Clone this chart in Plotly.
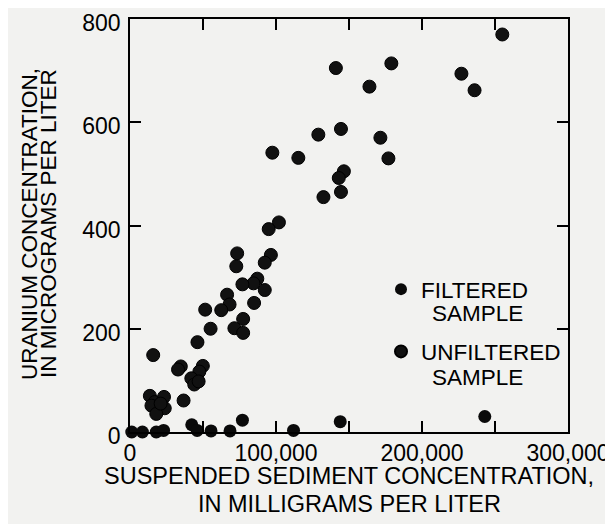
import plotly.graph_objects as go

# Suspended sediment (mg/L) and uranium (ug/L)
filtered_x = [1200, 8500, 18000, 23000, 42300, 46000, 55500, 68500, 77000, 112000, 144000, 243000]
filtered_y = [0, 0, 0, 3, 14, 3, 2, 2, 23, 3, 20, 30]

unfiltered_x = [255000, 141000, 179000, 164000, 227000, 236000, 129000, 144500, 171500, 177000,
                97500, 115300, 146500, 143000, 144500, 132500, 102000, 95000, 96500, 92300,
                73400, 72800, 87200, 84600, 77000, 92300, 85000, 66500, 68200, 62500,
                51500, 77500, 71500, 77500, 55200, 46200, 15900, 34800, 32900, 49900,
                47500, 42000, 44000, 47000, 36700, 13600, 17000, 23300, 14700, 23800,
                18000, 21000]
unfiltered_y = [770, 705, 714, 669, 694, 662, 576, 587, 570, 530,
                541, 531, 505, 492, 465, 455, 406, 393, 343, 328,
                346, 321, 297, 288, 286, 275, 250, 266, 247, 236,
                237, 219, 201, 192, 200, 174, 149, 127, 121, 128,
                117, 104, 92, 98, 61, 70, 58, 68, 51, 46,
                35, 55]

x_tickvals = [0, 50000, 100000, 150000, 200000, 250000, 300000]
x_ticktext = ["0", "", "100,000", "", "200,000", "", "300,000"]
y_tickvals = [0, 200, 400, 600, 800]
y_ticktext = ["0", "200", "400", "600", "800"]

FONT = "Liberation Sans, Arial, Helvetica, sans-serif"
BG = "#f2f2f0"

# The page body adds an 8px offset; the figure is sized to fill the rest of the window.
OFF = 8
PL, PR, PT, PB = 130, 568, 19, 432   # plot frame in window pixels
W, H = 613 - OFF, 524 - OFF


def px(x):
    return (x - PL) / (PR - PL)


def py(y):
    return (PB - y) / (PB - PT)


fig = go.Figure()
fig.add_trace(go.Scatter(
    x=filtered_x, y=filtered_y, mode="markers", name="FILTERED", legendgroup="f",
    marker=dict(size=13, color="#0a0a0a", line=dict(width=0)),
    cliponaxis=False))
fig.add_trace(go.Scatter(
    x=unfiltered_x, y=unfiltered_y, mode="markers", name="UNFILTERED", legendgroup="u",
    marker=dict(size=13, color="#111111", line=dict(width=1, color="#000000")),
    cliponaxis=False))

axis_common = dict(
    showgrid=False, zeroline=False, showline=True, linecolor="black", linewidth=1.5,
    mirror="ticks", ticks="inside", ticklen=11, tickwidth=1.5, tickcolor="black",
    tickfont=dict(family=FONT, size=23, color="black"), automargin=False,
    ticklabeloverflow="allow",
)
fig.update_xaxes(range=[0, 300000], tickmode="array", tickvals=x_tickvals,
                 ticktext=x_ticktext, ticklabelstandoff=0, **axis_common)
fig.update_yaxes(range=[0, 800], tickmode="array", tickvals=y_tickvals,
                 ticktext=y_ticktext, ticklabelstandoff=3, ticklabelshift=4, **axis_common)

ann_font = dict(family=FONT, size=23.5, color="black")
yt_font = dict(family=FONT, size=22.5, color="black")
leg_font = dict(family=FONT, size=22.5, color="black")
annotations = [
    dict(text="SUSPENDED SEDIMENT CONCENTRATION,", x=0.5, y=py(476), xref="paper", yref="paper",
         xanchor="center", yanchor="middle", showarrow=False, font=ann_font),
    dict(text="IN MILLIGRAMS PER LITER", x=0.5, y=py(504), xref="paper", yref="paper",
         xanchor="center", yanchor="middle", showarrow=False, font=ann_font),
    dict(text="URANIUM CONCENTRATION,", x=px(30), y=py(224), xref="paper", yref="paper",
         xanchor="center", yanchor="middle", textangle=-90, showarrow=False, font=yt_font),
    dict(text="IN MICROGRAMS PER LITER", x=px(49), y=py(224), xref="paper", yref="paper",
         xanchor="center", yanchor="middle", textangle=-90, showarrow=False, font=yt_font),
    dict(text="SAMPLE", x=px(430), y=py(313), xref="paper", yref="paper",
         xanchor="left", yanchor="middle", showarrow=False, font=leg_font),
    dict(text="SAMPLE", x=px(430), y=py(377), xref="paper", yref="paper",
         xanchor="left", yanchor="middle", showarrow=False, font=leg_font),
]

fig.update_layout(
    width=W, height=H,
    margin=dict(l=PL - OFF, r=613 - PR, t=PT - OFF, b=524 - PB, autoexpand=False),
    paper_bgcolor=BG, plot_bgcolor=BG,
    font=dict(family=FONT, size=22, color="black"),
    showlegend=True,
    legend=dict(x=px(381), y=py(268), xanchor="left", yanchor="top",
                bgcolor="rgba(0,0,0,0)", font=leg_font, tracegroupgap=30,
                itemsizing="constant"),
    annotations=annotations,
)

fig.write_html("out.html")
